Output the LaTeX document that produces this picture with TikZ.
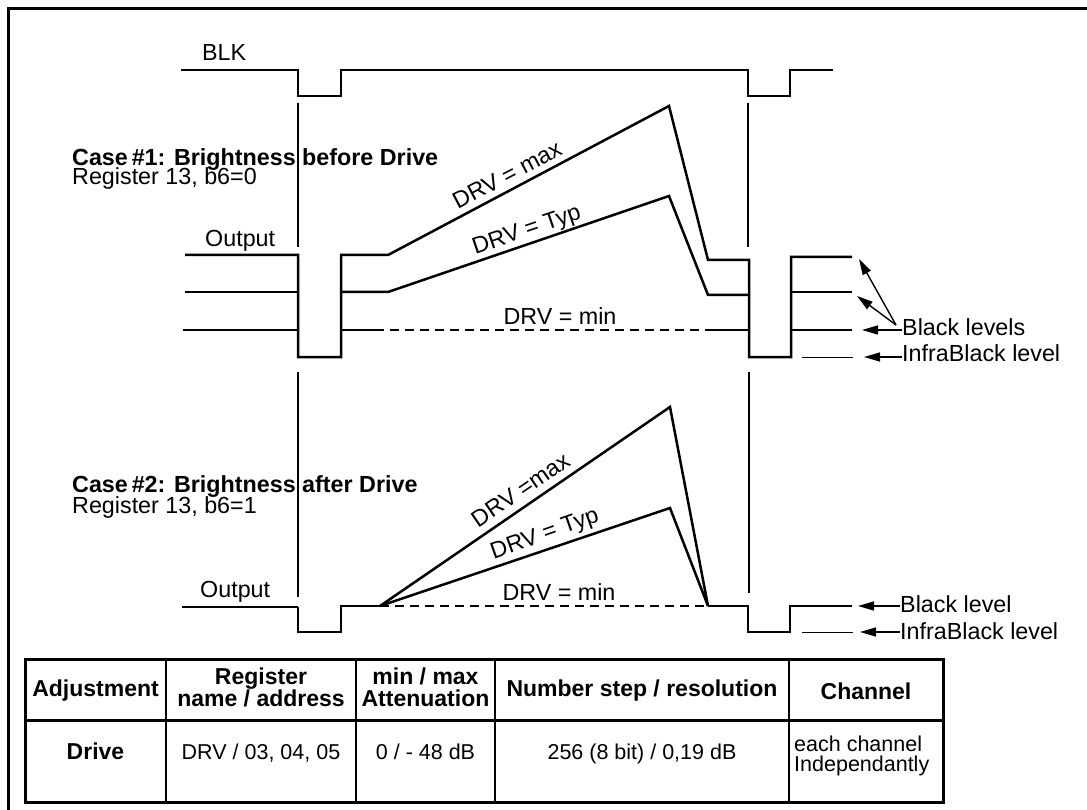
\documentclass[tikz,border=0pt]{standalone}
\usepackage{fontspec}
\setmainfont{Liberation Sans}
\usetikzlibrary{arrows.meta}
\tikzset{
  lbl/.style={font=\fontsize{23.3}{23}\selectfont, inner sep=0pt},
  ttl/.style={font=\bfseries\fontsize{23.3}{23}\selectfont, inner sep=0pt},
  th/.style={font=\bfseries\fontsize{23}{20}\selectfont, inner sep=0pt, align=center},
  td/.style={font=\fontsize{21.5}{20}\selectfont, inner sep=0pt, align=center},
  wave/.style={line width=2.5pt, line join=miter},
  thinwave/.style={line width=1.6pt},
  guide/.style={line width=1.1pt},
  dashlvl/.style={line width=1.5pt, dash pattern=on 9pt off 6pt},
  ptr/.style={line width=1.4pt, -{Triangle[length=16pt,width=9pt]}},
}
\begin{document}
\begin{tikzpicture}[x=1pt,y=-1pt]
\useasboundingbox (0,0) rectangle (1087,810);
\fill[white] (0,0) rectangle (1087,810);
% outer frame
\draw[line width=3pt] (8,815) -- (8,9) -- (1090,9);

% BLK
\node[lbl, anchor=base west] (blk) at (202,61) {BLK};
\draw[line width=2.1pt] (181,70) -- (298,70) -- (298,96) -- (341,96) -- (341,70) -- (748,70) -- (748,96) -- (790,96) -- (790,70) -- (833,70);

% guides
\draw[guide] (298,103) -- (298,247);
\draw[guide] (298,372) -- (298,597);
\draw[guide] (748,103) -- (748,247);
\draw[guide] (749,372) -- (749,593);

% Case 1 texts
\node[ttl, anchor=base west] (c1t) at (72,166) {Case\,\#1: Brightness before Drive};
\node[lbl, anchor=base west] (c1r) at (72,185) {Register 13, b6=0};
\node[lbl, anchor=base west] (c1o) at (205,247) {Output};

% Case 1 waves
\draw[wave] (185,255) -- (298,255) -- (298,357) -- (341,357) -- (341,255) -- (388,255) -- (669,106) -- (708,260) -- (749,260) -- (749,357) -- (791,357) -- (791,257) -- (852,257);
\draw[wave] (185,292) -- (298,292);
\draw[wave] (341,292) -- (388,292) -- (669,196) -- (708,295) -- (749,295);
\draw[wave] (791,292) -- (852,292);
\draw[thinwave] (183,330) -- (298,330);
\draw[thinwave] (341,330) -- (375,330);
\draw[dashlvl] (375,330) -- (708,330);
\draw[wave] (708,330) -- (749,330);
\draw[wave] (791,330) -- (852,330);
\draw[line width=1pt] (802,357) -- (853,357);

\node[lbl, rotate=27.8] (c1max) at (507,175) {DRV = max};
\node[lbl, rotate=18.7] (c1typ) at (527,231) {DRV = Typ};
\node[lbl] (c1min) at (560,316) {DRV = min};

% Case 1 pointers
\node[lbl, anchor=base west] (bl1) at (902,335) {Black levels};
\node[lbl, anchor=base west] (ibl1) at (902,361) {InfraBlack level};
\coordinate (t1) at (859,259);
\coordinate (t2) at (857,296);
\coordinate (t3) at (862,330);
\coordinate (t4) at (864,357);
\coordinate (s1) at (896,325);
\draw[ptr] (s1) -- (t1);
\draw[ptr] (s1) -- (t2);
\draw[ptr] (bl1.west |- t3) -- (t3);
\draw[ptr] (ibl1.west |- t4) -- (t4);

% Case 2 texts
\node[ttl, anchor=base west] (c2t) at (72,492) {Case\,\#2: Brightness after Drive};
\node[lbl, anchor=base west] (c2r) at (72,513) {Register 13, b6=1};
\node[lbl, anchor=base west] (c2o) at (200,597) {Output};

% Case 2 waves
\draw[thinwave] (182,607) -- (298,607);
\draw[wave] (298,607) -- (298,632) -- (341,632) -- (341,606) -- (380,606);
\draw[wave] (380,606) -- (670,407) -- (708,606);
\draw[wave] (380,606) -- (670,508) -- (708,606);
\draw[dashlvl] (380,606) -- (708,606);
\draw[wave] (708,606) -- (748,606) -- (748,632) -- (790,632) -- (790,606) -- (852,606);
\draw[line width=1pt] (802,632) -- (853,632);

\node[lbl, rotate=34.5] (c2max) at (521,490) {DRV =max};
\node[lbl, rotate=19.5] (c2typ) at (545,535) {DRV = Typ};
\node[lbl] (c2min) at (559,592) {DRV = min};

\node[lbl, anchor=base west] (bl2) at (900,612) {Black level};
\node[lbl, anchor=base west] (ibl2) at (900,639) {InfraBlack level};
\coordinate (t5) at (858,606);
\coordinate (t6) at (860,632);
\draw[ptr] (bl2.west |- t5) -- (t5);
\draw[ptr] (ibl2.west |- t6) -- (t6);

% Table
\draw[line width=1.3pt] (166,659) -- (166,802);
\draw[line width=1.3pt] (356,659) -- (356,802);
\draw[line width=1.3pt] (495,659) -- (495,802);
\draw[line width=1.3pt] (789,659) -- (789,802);
\draw[line width=3pt] (25,720) -- (943,720);
\draw[line width=3pt] (25,659) rectangle (943,802);

\node[th] (h1) at (95.5,691) {Adjustment};
\node[th, anchor=base] (h2a) at (261,684) {Register};
\node[th, anchor=base] (h2b) at (261,706) {name / address};
\node[th, anchor=base] (h3a) at (425.5,684) {min / max};
\node[th, anchor=base] (h3b) at (425.5,706) {Attenuation};
\node[th] (h4) at (642,691) {Number step / resolution};
\node[th] (h5) at (866,691) {Channel};

\node[th, anchor=base] (d1) at (95.5,759) {Drive};
\node[td, anchor=base] (d2) at (261,759) {DRV / 03, 04, 05};
\node[td, anchor=base] (d3) at (425.5,759) {0 / - 48 dB};
\node[td, anchor=base] (d4) at (642,759) {256 (8 bit) / 0,19 dB};
\node[td, anchor=base west] (d5a) at (794,751) {each channel};
\node[td, anchor=base west] (d5b) at (794,771) {Independantly};
\end{tikzpicture}
\end{document}
